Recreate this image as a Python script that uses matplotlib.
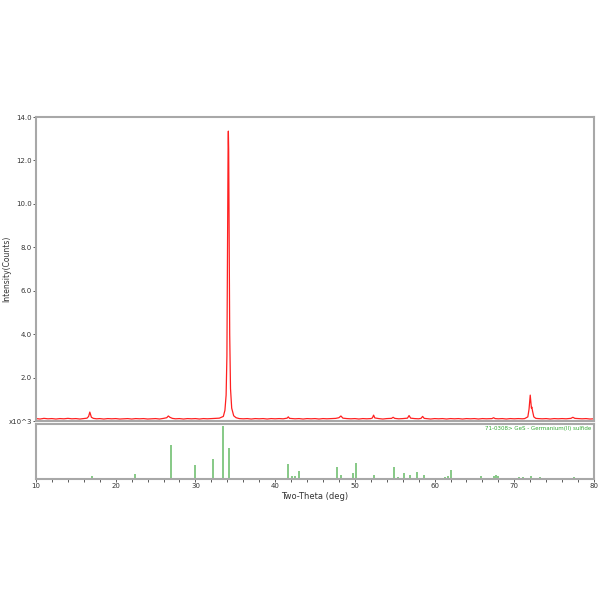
import matplotlib
matplotlib.use("Agg")
import matplotlib.pyplot as plt

TwoTheta = [10.0, 10.5, 11.0, 11.5, 12.0, 12.5, 13.0, 13.5, 14.0, 14.5, 15.0, 15.5, 16.0, 16.4,
            16.6, 16.75, 16.85, 16.95, 17.2, 17.6, 18.0, 18.5, 19.0, 19.5, 20.0, 20.5, 21.0, 21.5,
            22.0, 22.5, 23.0, 23.5, 24.0, 24.5, 25.0, 25.5, 26.0, 26.4, 26.6, 26.8, 27.1, 27.5,
            28.0, 28.5, 29.0, 29.5, 30.0, 30.5, 31.0, 31.5, 32.0, 32.5, 33.0, 33.5, 33.7, 33.85,
            33.95, 34.03, 34.1, 34.13, 34.17, 34.23, 34.3, 34.4, 34.55, 34.8, 35.1, 35.5, 36.0,
            36.5, 37.0, 37.5, 38.0, 38.5, 39.0, 39.5, 40.0, 40.5, 41.0, 41.5, 41.65, 41.8, 42.5,
            43.0, 43.5, 44.0, 44.5, 45.0, 45.5, 46.0, 46.5, 47.0, 47.6, 48.0, 48.25, 48.5, 49.0,
            49.5, 50.0, 50.5, 51.0, 51.5, 52.0, 52.2, 52.35, 52.5, 53.0, 53.5, 54.0, 54.6, 54.8,
            55.0, 55.5, 56.0, 56.6, 56.8, 57.0, 57.5, 58.0, 58.3, 58.5, 58.7, 59.0, 59.5, 60.0,
            60.5, 61.0, 61.5, 62.0, 62.5, 63.0, 63.5, 64.0, 64.5, 65.0, 65.5, 66.0, 66.5, 67.2,
            67.4, 67.6, 68.0, 68.5, 69.0, 69.5, 70.0, 70.5, 71.0, 71.3, 71.7, 71.85, 71.95, 72.0,
            72.08, 72.15, 72.2, 72.3, 72.45, 72.7, 73.0, 73.5, 74.0, 74.5, 75.0, 75.5, 76.0, 76.5,
            77.1, 77.35, 77.6, 78.0, 78.5, 79.0, 79.5, 80.0]
Counts = [0.12, 0.10, 0.13, 0.11, 0.12, 0.10, 0.12, 0.11, 0.13, 0.11, 0.12, 0.10, 0.12, 0.14,
          0.22, 0.42, 0.30, 0.18, 0.13, 0.11, 0.12, 0.10, 0.12, 0.11, 0.12, 0.10, 0.11, 0.12,
          0.10, 0.12, 0.11, 0.12, 0.10, 0.11, 0.12, 0.10, 0.13, 0.16, 0.24, 0.18, 0.13, 0.11,
          0.12, 0.10, 0.12, 0.11, 0.12, 0.10, 0.12, 0.11, 0.12, 0.13, 0.14, 0.22, 0.5, 1.2,
          3.0, 8.0, 12.8, 13.35, 12.5, 8.5, 4.0, 1.5, 0.6, 0.25, 0.16, 0.12, 0.11,
          0.12, 0.10, 0.12, 0.11, 0.12, 0.10, 0.12, 0.11, 0.12, 0.11, 0.14, 0.20, 0.13, 0.11,
          0.12, 0.10, 0.12, 0.11, 0.12, 0.10, 0.12, 0.11, 0.12, 0.13, 0.16, 0.24, 0.14, 0.12,
          0.11, 0.12, 0.10, 0.12, 0.11, 0.12, 0.15, 0.28, 0.15, 0.12, 0.10, 0.12, 0.13, 0.18,
          0.13, 0.11, 0.12, 0.14, 0.26, 0.14, 0.12, 0.11, 0.13, 0.22, 0.13, 0.12, 0.10, 0.12,
          0.11, 0.12, 0.10, 0.12, 0.11, 0.12, 0.10, 0.12, 0.11, 0.12, 0.10, 0.12, 0.11, 0.12,
          0.16, 0.12, 0.11, 0.12, 0.10, 0.12, 0.11, 0.12, 0.11, 0.12, 0.20, 0.55, 1.0, 1.2,
          0.9, 0.6, 0.65, 0.45, 0.2, 0.13, 0.12, 0.11, 0.12, 0.10, 0.12, 0.11, 0.12, 0.11,
          0.13, 0.18, 0.13, 0.12, 0.11, 0.12, 0.10, 0.11]

# reference card 71-0308 GeS, stick positions and relative intensities (%)
Stick_Pos = [17.0, 22.4, 26.9, 29.95, 32.2, 33.4, 34.25, 36.6, 41.6, 42.1, 42.5, 43.0, 45.7,
             47.7, 48.3, 49.8, 50.1, 52.4, 53.2, 54.9, 55.4, 56.2, 56.9, 57.8, 58.7, 61.3,
             61.65, 62.0, 65.8, 67.5, 67.7, 67.9, 69.3, 70.1, 70.6, 71.1, 71.5, 72.1, 73.2,
             74.3, 75.5, 76.5, 77.5, 79.1]
Stick_Int = [6, 10, 64, 27, 38, 100, 58, 1, 28, 5, 5, 14, 1,
             22, 7, 11, 30, 7, 2, 22, 4, 12, 7, 13, 7, 4,
             5, 16, 5, 5, 7, 5, 2, 2, 3, 3, 2, 5, 3,
             1, 1, 1, 3, 2]

Y_Ticks = [0, 2, 4, 6, 8, 10, 12, 14]
Y_TickLabels = ["x10^3", "2.0", "4.0", "6.0", "8.0", "10.0", "12.0", "14.0"]
X_Ticks = [10, 20, 30, 40, 50, 60, 70, 80]

Spine_Col = "#a8a8a8"
Tick_Col = "#404040"

fig = plt.figure(figsize=(6, 6), dpi=100)
ax1 = fig.add_axes([0.06, 0.298, 0.93, 0.507])
ax2 = fig.add_axes([0.06, 0.202, 0.93, 0.091])

# top panel: measured pattern
ax1.plot(TwoTheta, Counts, color="#ff2020", linewidth=0.9)
ax1.set_xlim(10, 80)
ax1.set_ylim(0, 14)
ax1.set_yticks(Y_Ticks)
ax1.set_yticklabels(Y_TickLabels)
ax1.set_xticks([])
ax1.tick_params(axis="y", direction="out", length=2, width=0.6, color=Tick_Col,
                labelsize=5, labelcolor="#333333", pad=1)
ax1.set_ylabel("Intensity(Counts)", fontsize=5.5, color="#333333")
ax1.yaxis.set_label_coords(-0.044, 0.5)

# bottom panel: reference sticks
ax2.vlines(Stick_Pos, 0, Stick_Int, color="#66bb66", linewidth=1.1)
ax2.set_xlim(10, 80)
ax2.set_ylim(0, 104)
ax2.set_yticks([])
ax2.set_xticks(X_Ticks)
ax2.set_xticks(range(10, 81, 2), minor=True)
ax2.tick_params(axis="x", which="both", direction="out", length=2, width=0.6, color=Tick_Col,
                labelsize=5, labelcolor="#333333", pad=1)
ax2.text(0.995, 0.96, "71-0308> GeS - Germanium(II) sulfide", transform=ax2.transAxes,
         ha="right", va="top", fontsize=4, color="#33aa33")
ax2.set_xlabel("Two-Theta (deg)", fontsize=6, color="#333333", labelpad=2)

for ax in (ax1, ax2):
    for s in ax.spines.values():
        s.set_color(Spine_Col)
        s.set_linewidth(1.5)

fig.savefig("out.png", dpi=100)
